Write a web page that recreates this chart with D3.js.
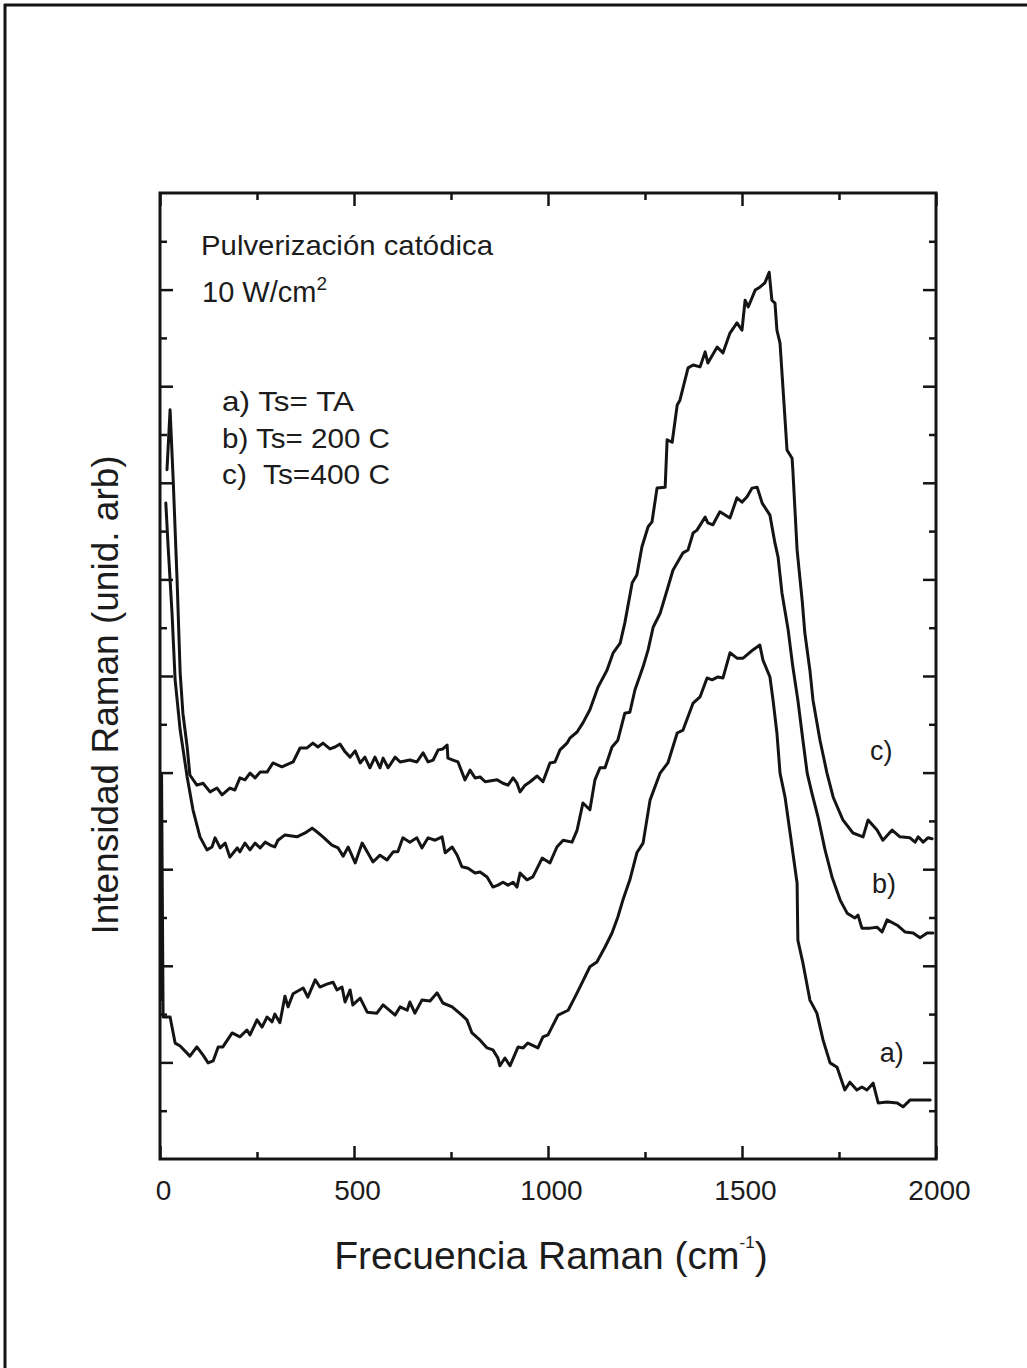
<!DOCTYPE html>
<html><head><meta charset="utf-8">
<script src="https://cdn.jsdelivr.net/npm/d3@7"></script>
<style>
html,body{margin:0;padding:0;background:#fff;}
svg{display:block;}
text{font-family:"Liberation Sans",Arial,Helvetica,sans-serif;fill:#1c1c1c;white-space:pre;}
</style></head>
<body>
<svg id="chart" width="1027" height="1368"></svg>
<script>
// ---- data (frequency cm^-1, intensity in arbitrary tick units) ----
const xTickMajor = [0, 500, 1000, 1500, 2000];
const xTickMinor = [250, 750, 1250, 1750];
const yTickMajor = [2, 4, 6, 8, 10, 12, 14, 16, 18];
const yTickMinor = [1, 3, 5, 7, 9, 11, 13, 15, 17, 19];
const titleLines = ["Pulverización catódica", "10 W/cm"];
const legendLines = ["a) Ts= TA", "b) Ts= 200 C", "c)  Ts=400 C"];
const curveLabels = ["a)", "b)", "c)"];
const curveLabelPos = [[1855, 2.0], [1835, 5.5], [1830, 8.26]];

const seriesA = [[2,3.3],[4,7.95],[8,2.94],[26,2.94],[39,2.40],[52,2.34],[77,2.13],[95,2.32],[111,2.15],[124,1.99],[137,2.03],[150,2.32],[162,2.32],[186,2.61],[206,2.53],[224,2.67],[232,2.57],[250,2.88],[263,2.73],[276,2.94],[289,2.84],[296,3.00],[309,2.82],[322,3.37],[330,3.15],[343,3.42],[369,3.54],[381,3.35],[400,3.71],[412,3.56],[430,3.62],[446,3.66],[456,3.50],[469,3.56],[477,3.25],[490,3.50],[497,3.19],[516,3.33],[534,3.04],[559,3.02],[575,3.19],[606,2.98],[619,3.15],[637,3.08],[644,3.25],[657,3.02],[675,3.29],[696,3.27],[714,3.44],[729,3.23],[753,3.15],[778,2.98],[791,2.88],[804,2.61],[825,2.46],[843,2.30],[858,2.26],[871,2.09],[876,1.93],[889,2.09],[902,1.93],[923,2.32],[936,2.30],[948,2.40],[974,2.30],[987,2.53],[1000,2.57],[1026,2.98],[1052,3.08],[1075,3.44],[1108,3.98],[1126,4.08],[1147,4.39],[1165,4.68],[1180,5.01],[1193,5.36],[1211,5.78],[1229,6.34],[1245,6.54],[1263,7.43],[1289,7.99],[1309,8.20],[1333,8.82],[1348,8.88],[1374,9.44],[1392,9.57],[1410,9.96],[1423,9.92],[1438,9.98],[1451,9.96],[1469,10.48],[1487,10.37],[1503,10.37],[1528,10.54],[1546,10.64],[1554,10.33],[1572,9.98],[1580,9.50],[1590,8.82],[1598,7.99],[1611,7.49],[1624,6.75],[1642,5.71],[1644,4.53],[1657,4.06],[1675,3.29],[1693,3.02],[1709,2.46],[1727,1.99],[1745,1.90],[1765,1.43],[1778,1.59],[1796,1.43],[1809,1.49],[1822,1.43],[1838,1.57],[1851,1.16],[1874,1.18],[1900,1.16],[1915,1.08],[1933,1.22],[1951,1.22],[1985,1.22]];

const seriesB = [[15,13.58],[21,12.67],[31,11.30],[39,9.92],[52,8.88],[70,7.91],[85,7.23],[103,6.67],[121,6.40],[134,6.46],[142,6.65],[155,6.44],[168,6.54],[180,6.25],[199,6.44],[206,6.36],[219,6.54],[232,6.40],[245,6.54],[258,6.44],[271,6.56],[284,6.50],[296,6.46],[304,6.60],[322,6.71],[353,6.67],[374,6.75],[392,6.85],[405,6.77],[420,6.67],[443,6.50],[459,6.44],[472,6.27],[485,6.46],[503,6.13],[521,6.54],[534,6.36],[549,6.15],[567,6.29],[585,6.19],[601,6.36],[613,6.36],[626,6.65],[644,6.56],[662,6.65],[675,6.44],[691,6.65],[709,6.60],[727,6.67],[735,6.34],[753,6.46],[766,6.29],[778,6.05],[794,6.02],[812,5.92],[825,5.94],[843,5.84],[858,5.63],[871,5.67],[884,5.73],[897,5.67],[910,5.73],[920,5.63],[928,5.92],[946,5.78],[961,5.84],[985,6.23],[1005,6.13],[1023,6.46],[1039,6.60],[1062,6.56],[1075,6.81],[1090,7.37],[1108,7.23],[1121,7.85],[1134,8.10],[1147,8.10],[1165,8.53],[1180,8.67],[1198,9.23],[1211,9.25],[1224,9.71],[1245,10.19],[1258,10.54],[1271,11.01],[1289,11.30],[1307,11.78],[1322,12.19],[1348,12.55],[1361,12.61],[1374,12.96],[1384,13.02],[1405,13.29],[1412,13.17],[1425,13.13],[1443,13.40],[1469,13.27],[1487,13.69],[1500,13.60],[1513,13.71],[1526,13.89],[1539,13.91],[1552,13.58],[1572,13.33],[1585,12.75],[1593,12.46],[1603,11.72],[1619,10.95],[1631,10.19],[1644,9.50],[1657,8.67],[1668,7.99],[1680,7.58],[1696,7.08],[1714,6.40],[1732,5.84],[1753,5.36],[1771,5.09],[1791,4.99],[1799,5.05],[1809,4.78],[1830,4.78],[1848,4.80],[1861,4.70],[1874,4.95],[1900,4.84],[1920,4.70],[1941,4.68],[1959,4.58],[1977,4.68],[1992,4.68]];

const seriesC = [[18,14.27],[26,15.51],[34,14.06],[44,11.99],[52,10.06],[59,9.23],[70,8.53],[77,7.95],[95,7.74],[111,7.78],[129,7.60],[147,7.68],[160,7.54],[180,7.68],[193,7.64],[206,7.89],[219,7.85],[232,7.99],[245,7.89],[258,8.01],[276,8.01],[291,8.20],[314,8.12],[343,8.22],[361,8.51],[379,8.51],[394,8.61],[407,8.53],[420,8.61],[438,8.49],[451,8.53],[464,8.59],[477,8.43],[490,8.32],[503,8.45],[516,8.20],[528,8.32],[541,8.10],[554,8.32],[567,8.10],[575,8.30],[588,8.10],[606,8.32],[619,8.22],[644,8.26],[662,8.22],[678,8.41],[691,8.22],[704,8.26],[717,8.47],[729,8.49],[740,8.57],[742,8.30],[755,8.26],[768,8.22],[786,7.85],[799,8.05],[812,7.89],[825,7.91],[838,7.81],[869,7.85],[884,7.78],[897,7.74],[910,7.89],[920,7.78],[928,7.60],[941,7.74],[954,7.81],[972,7.93],[987,7.81],[1005,8.20],[1018,8.22],[1031,8.47],[1049,8.61],[1057,8.72],[1075,8.84],[1090,9.03],[1108,9.30],[1129,9.77],[1152,10.12],[1168,10.48],[1186,10.68],[1198,11.10],[1217,11.93],[1229,12.09],[1242,12.67],[1258,13.09],[1268,13.19],[1281,13.89],[1302,13.91],[1307,14.89],[1320,14.84],[1333,15.61],[1340,15.71],[1361,16.38],[1374,16.44],[1392,16.40],[1405,16.71],[1412,16.48],[1436,16.81],[1451,16.69],[1469,17.10],[1487,17.31],[1500,17.16],[1508,17.78],[1516,17.64],[1534,17.99],[1546,18.05],[1559,18.14],[1570,18.36],[1577,17.78],[1585,17.72],[1590,17.16],[1598,16.89],[1606,15.92],[1616,14.68],[1629,14.51],[1631,14.27],[1642,12.61],[1655,11.57],[1662,10.89],[1675,10.12],[1683,9.50],[1701,8.67],[1719,7.99],[1735,7.49],[1760,7.02],[1786,6.75],[1812,6.67],[1825,7.02],[1848,6.81],[1863,6.60],[1887,6.81],[1907,6.67],[1933,6.65],[1946,6.56],[1954,6.67],[1967,6.56],[1979,6.65],[1990,6.63]];

// ---- drawing ----
const svg = d3.select("#chart");
const ink = "#141414";
const x = d3.scaleLinear().domain([0, 2000]).range([160, 936]);
const y = d3.scaleLinear().domain([0, 20]).range([1159, 193]);

// outer frame (top and left edges visible)
svg.append("line").attr("x1", 4).attr("x2", 1027).attr("y1", 5).attr("y2", 5)
  .attr("stroke", ink).attr("stroke-width", 3);
svg.append("line").attr("x1", 5).attr("x2", 5).attr("y1", 4).attr("y2", 1368)
  .attr("stroke", ink).attr("stroke-width", 3);

function styleAxis(g) {
  g.select(".domain").remove();
  g.selectAll(".tick line").attr("stroke", ink).attr("stroke-width", 2.5);
}

// bottom axis (major with labels)
const gB = svg.append("g").attr("transform", `translate(0,${y(0)})`)
  .call(d3.axisBottom(x).tickValues(xTickMajor).tickSizeInner(-13).tickSizeOuter(0).tickPadding(21).tickFormat(d3.format("d")));
styleAxis(gB);
gB.selectAll(".tick text").attr("font-size", 28).attr("fill", "#1c1c1c")
  .attr("font-family", '"Liberation Sans",Arial,sans-serif').attr("dx", 3);
svg.append("g").attr("transform", `translate(0,${y(0)})`)
  .call(d3.axisBottom(x).tickValues(xTickMinor).tickSizeInner(-7).tickSizeOuter(0).tickFormat(""))
  .call(styleAxis);
// top axis
svg.append("g").attr("transform", `translate(0,${y(20)})`)
  .call(d3.axisTop(x).tickValues(xTickMajor).tickSizeInner(-13).tickSizeOuter(0).tickFormat(""))
  .call(styleAxis);
svg.append("g").attr("transform", `translate(0,${y(20)})`)
  .call(d3.axisTop(x).tickValues(xTickMinor).tickSizeInner(-7).tickSizeOuter(0).tickFormat(""))
  .call(styleAxis);
// left axis
svg.append("g").attr("transform", `translate(${x(0)},0)`)
  .call(d3.axisLeft(y).tickValues(yTickMajor).tickSizeInner(-13).tickSizeOuter(0).tickFormat(""))
  .call(styleAxis);
svg.append("g").attr("transform", `translate(${x(0)},0)`)
  .call(d3.axisLeft(y).tickValues(yTickMinor).tickSizeInner(-7).tickSizeOuter(0).tickFormat(""))
  .call(styleAxis);
// right axis
svg.append("g").attr("transform", `translate(${x(2000)},0)`)
  .call(d3.axisRight(y).tickValues(yTickMajor).tickSizeInner(-13).tickSizeOuter(0).tickFormat(""))
  .call(styleAxis);
svg.append("g").attr("transform", `translate(${x(2000)},0)`)
  .call(d3.axisRight(y).tickValues(yTickMinor).tickSizeInner(-7).tickSizeOuter(0).tickFormat(""))
  .call(styleAxis);

// plot box
svg.append("rect").attr("x", x(0)).attr("y", y(20))
  .attr("width", x(2000) - x(0)).attr("height", y(0) - y(20))
  .attr("fill", "none").attr("stroke", ink).attr("stroke-width", 3);

// curves
const line = d3.line().x(d => x(d[0])).y(d => y(d[1]));
[seriesA, seriesB, seriesC].forEach(s => {
  svg.append("path").datum(s).attr("d", line)
    .attr("fill", "none").attr("stroke", ink).attr("stroke-width", 3)
    .attr("stroke-linejoin", "round").attr("stroke-linecap", "round");
});

// annotation texts
svg.append("text").attr("x", 201).attr("y", 255).attr("font-size", 28)
  .attr("textLength", 292).attr("lengthAdjust", "spacingAndGlyphs").text(titleLines[0]);
const t2 = svg.append("text").attr("x", 202).attr("y", 302).attr("font-size", 29);
t2.append("tspan").text(titleLines[1]);
t2.append("tspan").attr("font-size", 19).attr("dy", -12).text("2");
const legendWidths = [132, 168, 168];
legendLines.forEach((s, i) => {
  svg.append("text").attr("x", 222).attr("y", 411 + i * 36.5).attr("font-size", 28)
    .attr("textLength", legendWidths[i]).attr("lengthAdjust", "spacingAndGlyphs").text(s);
});
curveLabels.forEach((s, i) => {
  svg.append("text").attr("x", x(curveLabelPos[i][0])).attr("y", y(curveLabelPos[i][1]))
    .attr("font-size", 27).text(s);
});

// axis titles
const xt = svg.append("text").attr("x", 551).attr("y", 1269).attr("text-anchor", "middle").attr("font-size", 39);
xt.append("tspan").text("Frecuencia Raman (cm");
xt.append("tspan").attr("font-size", 17).attr("dy", -21).text("-1");
xt.append("tspan").attr("dy", 21).text(")");

svg.append("text").attr("transform", "translate(118,695) rotate(-90)")
  .attr("text-anchor", "middle").attr("font-size", 37).text("Intensidad Raman (unid. arb)");
</script>
</body></html>
